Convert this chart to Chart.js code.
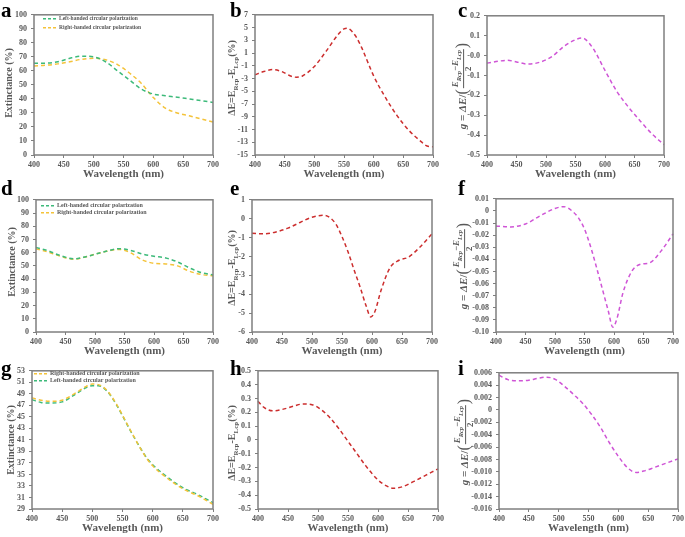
<!DOCTYPE html>
<html>
<head>
<meta charset="utf-8">
<script src="https://cdn.jsdelivr.net/npm/chart.js@4.4.1/dist/chart.umd.min.js"></script>
<style>
body{margin:0;background:#fff;}
#page{position:relative;width:685px;height:537px;overflow:hidden;font-family:'Liberation Serif','Times New Roman',serif;}
canvas{position:absolute;}
.tag{position:absolute;font-weight:bold;font-size:21px;line-height:20px;color:#000;}
.ytitle{position:absolute;white-space:nowrap;transform:translate(-50%,-50%) rotate(-90deg);font-weight:bold;font-size:10px;color:#595959;}
.gtitle{display:flex;align-items:center;}
.gt{font-size:11px;}
.par{font-size:16px;font-weight:normal;line-height:16px;}
.frac{display:flex;flex-direction:column;align-items:center;font-size:9px;line-height:9px;margin:0 1px;}
.frac .num{border-bottom:1px solid #595959;padding:0 1px;}
sub{font-size:0.7em;}
</style>
</head>
<body>
<div id="page"></div>
<script>
// longezze d'onda (nm) e valori
var wlA = [400, 420, 440, 460, 480, 500, 520, 540, 560, 580, 600, 620, 640, 660, 680, 700];
var leftA = [65.5, 65.5, 66.5, 69, 70.5, 70, 66.5, 60, 53.5, 47, 43.5, 42.3, 41.2, 40, 38.8, 37.5];
var rightA = [63.5, 64, 65, 66.5, 68.3, 69, 68, 64.5, 58.5, 51, 41, 33.5, 30, 28, 25.8, 23.5];

var wlB = [400, 415, 430, 445, 460, 470, 480, 500, 520, 540, 550, 555, 560, 570, 580, 600, 620, 640, 660, 680, 690, 700];
var dEB = [-2.4, -1.9, -1.6, -1.9, -2.6, -2.8, -2.6, -1.1, 1.3, 3.9, 4.8, 4.9, 4.7, 3.6, 1.8, -2.6, -6.0, -8.9, -11.2, -12.9, -13.6, -13.7];

var wlC = [400, 420, 435, 450, 470, 490, 510, 530, 550, 560, 565, 580, 600, 620, 640, 660, 680, 700];
var gC = [-0.038, -0.028, -0.024, -0.032, -0.043, -0.033, -0.005, 0.045, 0.08, 0.088, 0.085, 0.035, -0.075, -0.18, -0.26, -0.33, -0.395, -0.448];

var wlD = [400, 420, 440, 465, 480, 500, 520, 540, 560, 580, 600, 620, 640, 660, 680, 700];
var leftD = [64, 61.5, 58, 55.3, 56.5, 58.8, 61.2, 63, 61.8, 59, 57.3, 56, 53, 48.5, 45, 43.2];
var rightD = [63, 60.5, 57.5, 55, 56.3, 58.8, 61, 62.5, 60, 54.5, 52, 51.5, 50, 46, 43.5, 42.5];

var wlE = [400, 420, 440, 460, 480, 500, 520, 530, 540, 550, 560, 570, 580, 590, 598, 605, 615, 630, 645, 660, 680, 700];
var dEE = [-0.77, -0.8, -0.7, -0.5, -0.2, 0.08, 0.18, 0.05, -0.3, -0.95, -1.75, -2.7, -3.6, -4.6, -5.2, -4.9, -3.8, -2.6, -2.2, -2.05, -1.5, -0.8];

var wlF = [400, 425, 450, 475, 500, 515, 530, 540, 550, 560, 570, 580, 590, 598, 605, 615, 630, 645, 660, 680, 700];
var gF = [-0.0124, -0.0132, -0.0108, -0.004, 0.002, 0.0035, -0.0005, -0.006, -0.015, -0.029, -0.046, -0.064, -0.082, -0.096, -0.089, -0.068, -0.05, -0.044, -0.043, -0.033, -0.019];

var wlG = [400, 415, 430, 450, 470, 490, 500, 510, 525, 540, 550, 560, 575, 590, 600, 615, 630, 650, 675, 700];
var rightG = [48.3, 47.9, 47.7, 47.9, 49.0, 50.3, 50.7, 50.6, 49.5, 47.2, 45.3, 43.3, 40.4, 37.8, 36.5, 35.1, 33.9, 32.5, 31.3, 29.8];
var leftG = [48.0, 47.5, 47.4, 47.6, 48.8, 50.1, 50.4, 50.4, 49.4, 47.1, 45.2, 43.2, 40.4, 37.9, 36.7, 35.3, 34.1, 32.7, 31.5, 30.1];

var wlH = [400, 410, 425, 440, 460, 475, 490, 505, 520, 535, 550, 565, 580, 600, 615, 625, 640, 660, 680, 700];
var dEH = [0.28, 0.235, 0.21, 0.22, 0.245, 0.26, 0.255, 0.22, 0.16, 0.08, -0.01, -0.1, -0.19, -0.29, -0.335, -0.35, -0.34, -0.3, -0.255, -0.21];

var wlI = [400, 415, 430, 450, 465, 480, 495, 510, 525, 540, 555, 570, 585, 600, 615, 630, 645, 660, 680, 700];
var gI = [0.0056, 0.0049, 0.0047, 0.0048, 0.0051, 0.0053, 0.0049, 0.0038, 0.0025, 0.0011, -0.0007, -0.0028, -0.0053, -0.0075, -0.0093, -0.0101, -0.0098, -0.0093, -0.0086, -0.0079];

// assi: [min, max, passo]
var xRange = [400, 700, 50];
var yRangeExt = [0, 100, 10];
var yRangeB = [-15, 7, 2];
var yRangeC = [-0.5, 0.2, 0.1];
var yRangeE = [-6, 1, 1];
var yRangeF = [-0.1, 0.01, 0.01];
var yRangeG = [29, 53, 2];
var yRangeH = [-0.5, 0.5, 0.1];
var yRangeI = [-0.016, 0.006, 0.002];

var LEFT_LABEL = 'Left-handed circular polarization';
var RIGHT_LABEL = 'Right-handed circular polarization';

var GREEN = '#3dba7a';
var YELLOW = '#f4c33a';
var RED = '#cc2e2e';
var MAGENTA = '#cf55d6';
var GREY = '#595959';
var FONT = "'Liberation Serif', 'Times New Roman', serif";

var titleExt = 'Extinctance (%)';
var titleDE = '&Delta;E=E<sub>Rcp</sub>-E<sub>Lcp</sub>(%)';
var titleG = '<span class="gt"><i>g</i> = <i>&Delta;E</i>/</span><span class="par">(</span>' +
    '<span class="frac"><span class="num"><i>E<sub>Rcp</sub></i>&minus;<i>E<sub>Lcp</sub></i></span><span>2</span></span>' +
    '<span class="par">)</span>';

// plugin: cornice grigia attorno all'area del grafico
Chart.register({
    id: 'frame',
    afterDatasetsDraw: function(chart) {
        var a = chart.chartArea;
        var ctx = chart.ctx;
        ctx.save();
        ctx.strokeStyle = '#7f7f7f';
        ctx.lineWidth = 1.5;
        ctx.strokeRect(a.left, a.top, a.right - a.left, a.bottom - a.top);
        ctx.restore();
    }
});

// plugin: legenda dentro l'area del grafico
Chart.register({
    id: 'inLegend',
    afterDraw: function(chart, args, opts) {
        if (!opts || !opts.show) return;
        var a = chart.chartArea;
        var ctx = chart.ctx;
        ctx.save();
        ctx.font = 'bold ' + opts.size + 'px ' + FONT;
        ctx.textBaseline = 'middle';
        chart.data.datasets.forEach(function(ds, i) {
            var y = a.top + opts.y + i * opts.gap;
            var x = a.left + opts.x;
            ctx.strokeStyle = ds.borderColor;
            ctx.lineWidth = 1.4;
            ctx.setLineDash([3, 2]);
            ctx.beginPath();
            ctx.moveTo(x, y);
            ctx.lineTo(x + opts.len, y);
            ctx.stroke();
            ctx.setLineDash([]);
            ctx.fillStyle = GREY;
            ctx.fillText(ds.label, x + opts.len + 2, y);
        });
        ctx.restore();
    }
});

var page = document.getElementById('page');

function pts(xs, ys) {
    var out = [];
    for (var i = 0; i < xs.length; i++) {
        out.push({x: xs[i], y: ys[i]});
    }
    return out;
}

function serie(label, xs, ys, color) {
    return {
        label: label,
        data: pts(xs, ys),
        borderColor: color,
        borderWidth: 1.5,
        borderDash: [4, 3],
        pointRadius: 0,
        cubicInterpolationMode: 'monotone',
        fill: false,
        clip: 3
    };
}

var YW = 36, XH = 26, PT = 6, PR = 12;

function create_panel(tag, tagPos, box, datasets, yr, title, titlePos, legend) {
    var w = box[2] - box[0] + YW + PR;
    var h = box[3] - box[1] + PT + XH;
    var cv = document.createElement('canvas');
    cv.width = w;
    cv.height = h;
    cv.style.left = (box[0] - YW) + 'px';
    cv.style.top = (box[1] - PT) + 'px';
    page.appendChild(cv);

    var t = document.createElement('div');
    t.className = 'tag';
    t.textContent = tag;
    t.style.left = tagPos[0] + 'px';
    t.style.top = tagPos[1] + 'px';
    page.appendChild(t);

    var yt = document.createElement('div');
    yt.className = title === titleG ? 'ytitle gtitle' : 'ytitle';
    yt.innerHTML = title;
    yt.style.left = titlePos[0] + 'px';
    yt.style.top = titlePos[1] + 'px';
    page.appendChild(yt);

    new Chart(cv.getContext('2d'), {
        type: 'line',
        data: {datasets: datasets},
        options: {
            responsive: false,
            animation: false,
            layout: {padding: {top: PT, right: PR, left: 0, bottom: 0}},
            plugins: {
                legend: {display: false},
                tooltip: {enabled: false},
                inLegend: legend || {show: false}
            },
            scales: {
                x: {
                    type: 'linear',
                    min: xRange[0], max: xRange[1],
                    afterFit: function(s) { s.height = XH; },
                    ticks: {stepSize: xRange[2], maxRotation: 0, autoSkip: false, padding: 2,
                        color: GREY, font: {family: FONT, size: 8, weight: 'bold'}},
                    grid: {drawOnChartArea: false, drawTicks: true, tickLength: 3, color: '#7f7f7f'},
                    border: {display: false},
                    title: {display: true, text: 'Wavelength (nm)', color: GREY, padding: {top: 0, bottom: 0},
                        font: {family: FONT, size: 11, weight: 'bold'}}
                },
                y: {
                    min: yr[0], max: yr[1],
                    afterFit: function(s) { s.width = YW; },
                    ticks: {stepSize: yr[2], autoSkip: false, padding: 4,
                        color: GREY, font: {family: FONT, size: 8, weight: 'bold'}},
                    grid: {drawOnChartArea: false, drawTicks: true, tickLength: 3, color: '#7f7f7f'},
                    border: {display: false}
                }
            }
        }
    });
}

create_panel('a', [1, 0], [34, 12, 213, 155],
    [serie(LEFT_LABEL, wlA, leftA, GREEN), serie(RIGHT_LABEL, wlA, rightA, YELLOW)],
    yRangeExt, titleExt, [8, 83], {show: true, x: 9, y: 4, gap: 9, len: 14, size: 5.5});
create_panel('b', [230, 0], [255, 12, 433, 155],
    [serie('dE', wlB, dEB, RED)], yRangeB, titleDE, [233, 78]);
create_panel('c', [458, 0], [487, 13, 664, 155],
    [serie('g', wlC, gC, MAGENTA)], yRangeC, titleG, [462, 86]);

create_panel('d', [1, 178], [36, 197, 213, 332],
    [serie(LEFT_LABEL, wlD, leftD, GREEN), serie(RIGHT_LABEL, wlD, rightD, YELLOW)],
    yRangeExt, titleExt, [11, 262], {show: true, x: 5, y: 6, gap: 7, len: 14, size: 6});
create_panel('e', [230, 178], [252, 197, 432, 332],
    [serie('dE', wlE, dEE, RED)], yRangeE, titleDE, [233, 268]);
create_panel('f', [458, 178], [496, 196, 673, 332],
    [serie('g', wlF, gF, MAGENTA)], yRangeF, titleG, [463, 266]);

create_panel('g', [1, 358], [32, 368, 213, 509],
    [serie(RIGHT_LABEL, wlG, rightG, YELLOW), serie(LEFT_LABEL, wlG, leftG, GREEN)],
    yRangeG, titleExt, [10, 440], {show: true, x: 2, y: 3, gap: 7, len: 14, size: 6});
create_panel('h', [230, 358], [258, 368, 438, 509],
    [serie('dE', wlH, dEH, RED)], yRangeH, titleDE, [233, 443]);
create_panel('i', [458, 358], [499, 370, 678, 509],
    [serie('g', wlI, gI, MAGENTA)], yRangeI, titleG, [464, 442]);
</script>
</body>
</html>
